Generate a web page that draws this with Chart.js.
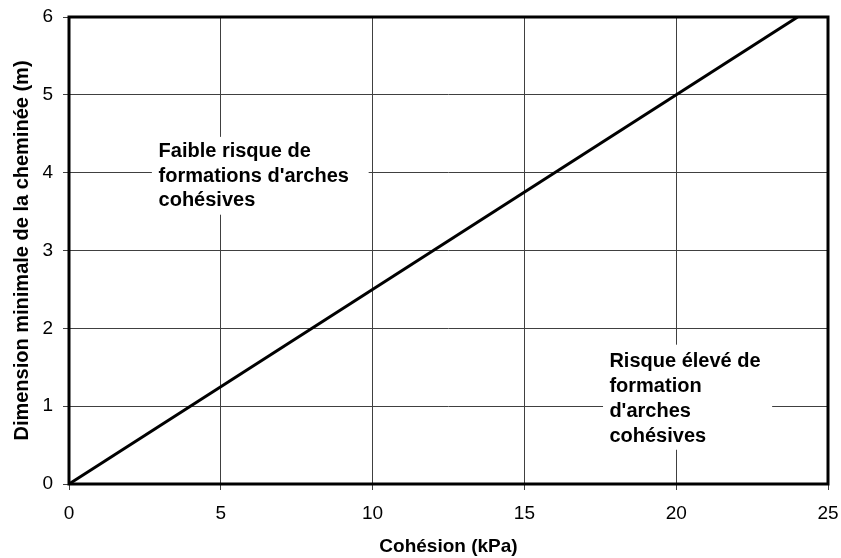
<!DOCTYPE html>
<html>
<head>
<meta charset="utf-8">
<script src="https://cdn.jsdelivr.net/npm/chart.js@4.4.1/dist/chart.umd.min.js"></script>
<style>
  html, body { margin: 0; padding: 0; background: #fff; }
  canvas { display: block; }
</style>
</head>
<body>
<canvas id="myChart" width="841" height="558"></canvas>
<script>
// data
const cohesion = [0, 24];
const dimension = [0, 6];
const xTicks = [0, 5, 10, 15, 20, 25];
const yTicks = [0, 1, 2, 3, 4, 5, 6];

const xTitle = "Cohésion (kPa)";
const yTitle = "Dimension minimale de la cheminée (m)";

const zoneLow = ["Faible risque de", "formations d'arches", "cohésives"];
const zoneHigh = ["Risque élevé de", "formation", "d'arches", "cohésives"];

const FONT = "'Liberation Sans', Arial, Helvetica, sans-serif";

// text boxes placed in data units
const notes = [
  { lines: zoneLow, x0: 2.73, x1: 9.87, yTop: 4.46, yBottom: 3.46, tx: 2.95, ty: 4.20, lh: 24.5 },
  { lines: zoneHigh, x0: 17.59, x1: 23.16, yTop: 1.79, yBottom: 0.44, tx: 17.8, ty: 1.50, lh: 25 }
];

const notesPlugin = {
  id: "notes",
  beforeDatasetsDraw(chart) {
    const ctx = chart.ctx;
    const xs = chart.scales.x, ys = chart.scales.y;
    ctx.save();
    notes.forEach(n => {
      const l = xs.getPixelForValue(n.x0), r = xs.getPixelForValue(n.x1);
      const t = ys.getPixelForValue(n.yTop), b = ys.getPixelForValue(n.yBottom);
      ctx.fillStyle = "#fff";
      ctx.fillRect(l, t, r - l, b - t);
      ctx.fillStyle = "#000";
      ctx.font = "bold 20px " + FONT;
      ctx.textBaseline = "alphabetic";
      ctx.textAlign = "left";
      const x = xs.getPixelForValue(n.tx);
      let y = ys.getPixelForValue(n.ty);
      n.lines.forEach(s => { ctx.fillText(s, x, y); y += n.lh; });
    });
    ctx.restore();
  },
  afterDraw(chart) {
    const a = chart.chartArea;
    const ctx = chart.ctx;
    ctx.save();
    ctx.strokeStyle = "#000";
    ctx.lineWidth = 3;
    ctx.strokeRect(a.left, a.top, a.right - a.left, a.bottom - a.top);
    ctx.restore();
  }
};

new Chart(document.getElementById("myChart"), {
  type: "line",
  data: {
    datasets: [{
      data: cohesion.map((c, i) => ({ x: c, y: dimension[i] })),
      borderColor: "#000",
      borderWidth: 3,
      pointRadius: 0,
      tension: 0,
      fill: false
    }]
  },
  options: {
    responsive: false,
    animation: false,
    layout: { padding: { left: 0, right: 13, top: 17, bottom: 0 } },
    plugins: { legend: { display: false }, tooltip: { enabled: false } },
    scales: {
      x: {
        type: "linear",
        min: xTicks[0],
        max: xTicks[xTicks.length - 1],
        afterBuildTicks: s => { s.ticks = xTicks.map(v => ({ value: v })); },
        afterFit: s => { s.height = 74; s.paddingLeft = 0; s.paddingRight = 0; },
        grid: { color: "#404040", lineWidth: 1, tickLength: 6, tickColor: "#404040" },
        border: { display: false },
        ticks: { color: "#000", font: { family: FONT, size: 19 }, padding: 12, maxRotation: 0 },
        title: {
          display: true, text: xTitle, color: "#000",
          font: { family: FONT, size: 19, weight: "bold" },
          padding: { top: 0, bottom: 0 }
        }
      },
      y: {
        type: "linear",
        min: yTicks[0],
        max: yTicks[yTicks.length - 1],
        afterBuildTicks: s => { s.ticks = yTicks.map(v => ({ value: v })); },
        afterFit: s => { s.width = 69; s.paddingTop = 0; s.paddingBottom = 0; },
        grid: { color: "#404040", lineWidth: 1, tickLength: 6, tickColor: "#404040" },
        border: { display: false },
        ticks: { color: "#000", font: { family: FONT, size: 19 }, padding: 10 },
        title: {
          display: true, text: yTitle, color: "#000",
          font: { family: FONT, size: 20, weight: "bold" },
          padding: { top: 10, bottom: 0 }
        }
      }
    }
  },
  plugins: [notesPlugin]
});
</script>
</body>
</html>
